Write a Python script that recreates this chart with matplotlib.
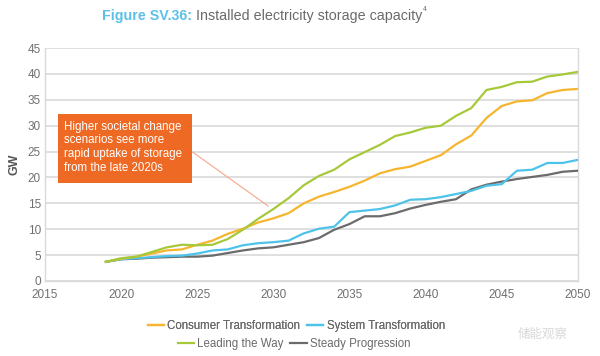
import matplotlib
matplotlib.use("Agg")
import matplotlib.pyplot as plt
from matplotlib.patches import Rectangle
from matplotlib.lines import Line2D

years = list(range(2019, 2051))
consumer = [3.7, 4.3, 4.7, 5.3, 5.9, 6.1, 7.0, 7.8, 9.1, 10.1, 11.3, 12.1, 13.1, 15.0, 16.3, 17.2,
            18.2, 19.4, 20.8, 21.6, 22.1, 23.2, 24.3, 26.4, 28.1, 31.5, 33.8, 34.7, 34.9, 36.3, 36.9, 37.1]
system = [3.7, 4.2, 4.4, 4.6, 4.8, 4.9, 5.3, 5.9, 6.1, 6.9, 7.3, 7.5, 7.8, 9.2, 10.1, 10.5,
          13.3, 13.6, 13.9, 14.6, 15.7, 15.8, 16.2, 16.8, 17.4, 18.4, 18.7, 21.3, 21.5, 22.8, 22.8, 23.4]
leading = [3.7, 4.4, 4.7, 5.6, 6.5, 7.0, 6.9, 7.0, 8.1, 9.9, 12.0, 13.9, 16.0, 18.5, 20.3, 21.5,
           23.5, 24.9, 26.3, 28.0, 28.7, 29.6, 30.0, 31.9, 33.4, 36.9, 37.5, 38.4, 38.5, 39.5, 39.9, 40.4]
steady = [3.7, 4.2, 4.3, 4.5, 4.6, 4.7, 4.7, 4.9, 5.4, 5.9, 6.3, 6.5, 7.0, 7.5, 8.3, 9.9,
          11.0, 12.5, 12.5, 13.1, 14.0, 14.7, 15.3, 15.8, 17.7, 18.6, 19.2, 19.7, 20.1, 20.5, 21.1, 21.3]
series_names = ["Consumer Transformation", "System Transformation", "Leading the Way", "Steady Progression"]
x_ticks = [2015, 2020, 2025, 2030, 2035, 2040, 2045, 2050]
y_ticks = [0, 5, 10, 15, 20, 25, 30, 35, 40, 45]
note_lines = ["Higher societal change", "scenarios see more", "rapid uptake of storage", "from the late 2020s"]

c_orange = "#F6B52E"
c_blue = "#4EC3EA"
c_green = "#A6C93A"
c_gray = "#6B6B6D"
c_box = "#EE6A24"

plt.rcParams['font.family'] = ['Liberation Sans', 'DejaVu Sans']

fig = plt.figure(figsize=(6.0, 3.56), dpi=100)
ax = fig.add_axes([0.075, 0.2107, 0.888, 0.6543])

ax.set_xlim(2015, 2050)
ax.set_ylim(0, 45)
ax.set_xticks(x_ticks)
ax.set_yticks(y_ticks)
ax.yaxis.grid(True, color="#d9d9d9", linewidth=1.2)
ax.set_axisbelow(True)
ax.spines["top"].set_visible(False)
for s in ["left", "right", "bottom"]:
    ax.spines[s].set_color("#d9d9d9")
    ax.spines[s].set_linewidth(1.0)
ax.tick_params(length=0, labelsize=8.5, labelcolor="#707070")
ax.tick_params(axis="x", pad=6)
ax.tick_params(axis="y", pad=3)

lw = 1.6
ax.plot(years, steady, color=c_gray, lw=lw, zorder=3)
ax.plot(years, system, color=c_blue, lw=lw, zorder=3)
ax.plot(years, consumer, color=c_orange, lw=lw, zorder=3)
ax.plot(years, leading, color=c_green, lw=lw, zorder=3)

ax.set_ylabel("GW", fontsize=9, fontweight="bold", color="#555555", labelpad=5)

# annotation box
ax.add_patch(Rectangle((2015.85, 18.9), 8.8, 13.3, facecolor=c_box, edgecolor="none", zorder=4, clip_on=False))
ax.text(2016.25, 31.0, "\n".join(note_lines), color="white", fontsize=8.3, va="top", ha="left",
        linespacing=1.2, zorder=5)
ax.plot([2024.7, 2029.65], [24.9, 14.5], color="#F2A888", lw=0.8, zorder=2)

# title
t1 = fig.text(0.17, 0.955, "Figure SV.36:", color="#5CC0E8", fontsize=10.3, fontweight="bold",
              va="center", ha="left")
fig.canvas.draw()
bb = t1.get_window_extent()
x1 = bb.x1 / fig.bbox.width
t2 = fig.text(x1 + 0.006, 0.955, "Installed electricity storage capacity", color="#6a6a6a", fontsize=10.3,
              va="center", ha="left")
bb2 = t2.get_window_extent()
fig.text(bb2.x1 / fig.bbox.width + 0.002, 0.972, "4", color="#6a6a6a", fontsize=5, va="center", ha="left")

# legends
h = [Line2D([], [], color=c, lw=1.6) for c in [c_orange, c_blue, c_green, c_gray]]
leg1 = fig.legend(h[:2], series_names[:2], loc="center", bbox_to_anchor=(0.494, 0.083), ncol=2,
                  frameon=False, fontsize=8.3, handlelength=1.4, handletextpad=0.3, columnspacing=0.6,
                  labelcolor="#6a6a6a")
leg2 = fig.legend(h[2:], series_names[2:], loc="center", bbox_to_anchor=(0.49, 0.033), ncol=2,
                  frameon=False, fontsize=8.3, handlelength=1.4, handletextpad=0.3, columnspacing=0.6,
                  labelcolor="#6a6a6a")
fig.add_artist(leg1)

# watermark
fig.text(0.905, 0.06, "储能观察", family=['Noto Sans CJK SC', 'DejaVu Sans'], fontsize=9,
         color="#d8d8d8", ha="center", va="center")

fig.savefig("out.png", dpi=100)
